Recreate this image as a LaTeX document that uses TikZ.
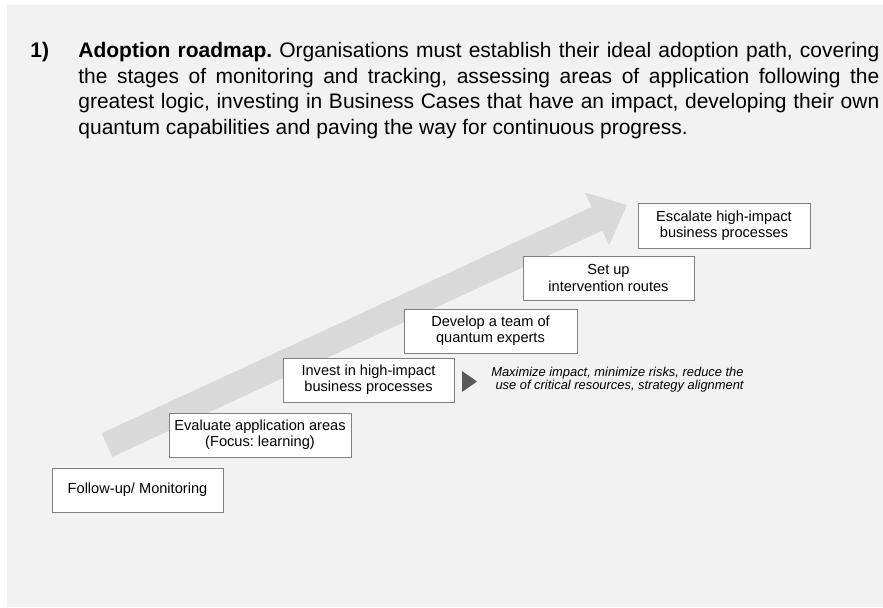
\documentclass[tikz,border=0pt]{standalone}
\usepackage{fontspec}
\setmainfont{Liberation Sans}
\usepackage{xcolor}
\definecolor{pagegray}{HTML}{F2F2F2}
\definecolor{arrowgray}{HTML}{D9D9D9}
\definecolor{boxline}{HTML}{808080}
\definecolor{tipgray}{HTML}{595959}
\tikzset
  {stage/.style={draw=boxline,fill=white,line width=0.5pt,minimum width=85.5pt,minimum height=22pt,inner sep=2pt,align=center,font=\fontsize{7.3}{8.1}\selectfont},
   para/.style={inner sep=0pt,font=\fontsize{10.5}{12.75}\selectfont}}
\newcommand{\twolab}[2]{#1\\#2}
\frenchspacing

\begin{document}
\begin{tikzpicture}[x=0.5pt,y=-0.5pt]
 \useasboundingbox (0,0) rectangle (883,607);
 \fill[white] (0,0) rectangle (883,607);
 \fill[pagegray] (7,5) rectangle (883,607);

 % intro text
 \draw (30,57.5) node[para,anchor=base west,font=\bfseries\fontsize{10.5}{12.75}\selectfont] (num) {1)};
 \draw (78,57.5) node[para,anchor=base west,text width=400.5pt,align=justify] (intro)
       {\textbf{Adoption roadmap.} Organisations must establish their ideal adoption path, covering\linebreak
        the stages of monitoring and tracking, assessing areas of application following the\linebreak
        greatest logic, investing in Business Cases that have an impact, developing their own\linebreak
        quantum capabilities and paving the way for continuous progress.};

 % big arrow
 \fill[arrowgray] (101.6,433.2) -- (591.6,207.0) -- (584.8,192.5) -- (627,205)
                  -- (609.2,245.1) -- (602.4,230.6) -- (112.4,456.8) -- cycle;

 % stages
 \draw (137.5,490) node[stage] (follow) {Follow-up/ Monitoring};
 \draw (260,435)   node[stage,minimum width=91pt] (evaluate)
       {\twolab{Evaluate application areas}{(Focus: learning)}};
 \draw (368.5,380) node[stage] (invest)
       {\twolab{Invest in high-impact}{business processes}};
 \draw (490.5,331) node[stage,minimum width=86.5pt] (develop)
       {\twolab{Develop a team of}{quantum experts}};
 \draw (608.5,278) node[stage] (setup)
       {\twolab{Set up}{intervention routes}};
 \draw (724,225.5) node[stage,minimum width=86pt,minimum height=22.5pt] (escalate)
       {\twolab{Escalate high-impact}{business processes}};

 \fill[tipgray] (462,371) -- (477,381.5) -- (462,392) -- cycle;
 \draw (744,380) node[anchor=east,inner sep=0pt,align=right,font=\itshape\fontsize{6.45}{6.6}\selectfont] (aims)
       {Maximize impact, minimize risks, reduce the\\use of critical resources, strategy alignment};
\end{tikzpicture}
\end{document}
